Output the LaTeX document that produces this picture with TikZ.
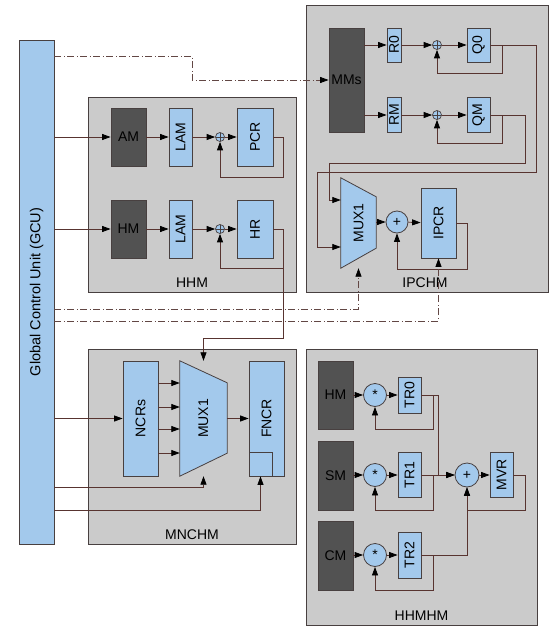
\documentclass[tikz,border=0pt]{standalone}
\usepackage{fontspec}
\setmainfont{Liberation Sans}
\usepackage{graphicx}
\usetikzlibrary{arrows.meta}
\definecolor{regblue}{RGB}{163,201,236}
\definecolor{memgray}{RGB}{82,82,82}
\definecolor{modgray}{RGB}{203,203,203}
\definecolor{wirecol}{RGB}{88,52,48}
\definecolor{edgecol}{RGB}{72,64,64}
\begin{document}
\begin{tikzpicture}[x=1pt,y=-1pt,font=\fontsize{14}{16}\selectfont,
  module/.style={draw=edgecol,fill=modgray,line width=0.9pt,inner sep=0pt},
  reg/.style={draw=edgecol,fill=regblue,line width=0.8pt,inner sep=0pt},
  mem/.style={draw=edgecol,fill=memgray,line width=0.8pt,inner sep=0pt},
  oplus/.style={circle,draw=edgecol,fill=regblue,line width=0.7pt,minimum size=9pt,inner sep=0pt,
    path picture={\draw[edgecol,line width=0.7pt] (path picture bounding box.north) -- (path picture bounding box.south)
      (path picture bounding box.west) -- (path picture bounding box.east);}},
  gate/.style={circle,draw=edgecol,fill=regblue,line width=0.8pt,inner sep=0pt},
  wire/.style={draw=wirecol,line width=0.8pt},
  tip/.style={-{Triangle[length=8.5pt,width=6pt,color=black]}},
  ctrl/.style={draw=wirecol!75!gray,line width=0.8pt,dash pattern=on 7pt off 2.5pt on 1pt off 2.5pt}]
\useasboundingbox (0,0) rectangle (558,632);

% modules
\node[module,minimum width=208,minimum height=195,label={[above=1.5pt]south:HHM}] at (192,194.5) (hhm) {};
\node[module,minimum width=242,minimum height=287,label={[above=1.5pt,xshift=-2pt]south:IPCHM}] at (427,148.5) (ipchm) {};
\node[module,minimum width=208,minimum height=195,label={[above=1.5pt]south:MNCHM}] at (192,446.5) (mnchm) {};
\node[module,minimum width=231,minimum height=276,label={[above=1.5pt]south:HHMHM}] at (421.5,487) (hhmhm) {};

% global control unit
\node[reg,minimum width=35,minimum height=504] at (36.5,292) (gcu) {};
\node[font=\fontsize{14.5}{16}\selectfont] at (gcu.center) (gcutext) {\rotatebox{90}{Global Control Unit (GCU)}};

% HHM
\node[mem,minimum width=35,minimum height=58] at (128.5,137) (am) {AM};
\node[reg,minimum width=23,minimum height=58] at (180.5,137) (lama) {\rotatebox{90}{LAM}};
\node[oplus] at (220,137) (adda) {};
\node[reg,minimum width=36,minimum height=58] at (255,137) (pcr) {\rotatebox{90}{PCR}};
\node[mem,minimum width=35,minimum height=58] at (128.5,229) (hma) {HM};
\node[reg,minimum width=23,minimum height=58] at (180.5,229) (lamb) {\rotatebox{90}{LAM}};
\node[oplus] at (220,229) (addb) {};
\node[reg,minimum width=36,minimum height=58] at (255,229) (hr) {\rotatebox{90}{HR}};

\draw[wire,tip] (gcu.east |- am.west) -- (am.west);
\draw[wire,tip] (am) -- (lama);
\draw[wire,tip] (lama) -- (adda);
\draw[wire,tip] (adda) -- (pcr);
\draw[wire,tip] (pcr.east) -| (283,177) -| (adda.south);
\draw[wire,tip] (gcu.east |- hma.west) -- (hma.west);
\draw[wire,tip] (hma) -- (lamb);
\draw[wire,tip] (lamb) -- (addb);
\draw[wire,tip] (addb) -- (hr);
\draw[wire,tip] (hr.east) -| (283,268) -| (addb.south);

% IPCHM
\node[mem,minimum width=35,minimum height=104] at (346.5,80) (mms) {MMs};
\node[reg,minimum width=14,minimum height=34] at (394,45) (rzero) {\rotatebox{90}{R0}};
\node[oplus] at (437,45) (addc) {};
\node[reg,minimum width=23,minimum height=34] at (478.5,45) (qzero) {\rotatebox{90}{Q0}};
\node[reg,minimum width=14,minimum height=35] at (394,115) (rm) {\rotatebox{90}{RM}};
\node[oplus] at (437,115) (addd) {};
\node[reg,minimum width=23,minimum height=35] at (478.5,115) (qm) {\rotatebox{90}{QM}};
\node[inner sep=0pt,minimum width=35,minimum height=90] at (358.5,223) (ipmux) {};
\draw[reg] (ipmux.north west) -- ([yshift=-19pt]ipmux.north east) -- ([yshift=20pt]ipmux.south east) -- (ipmux.south west) -- cycle;
\node at (ipmux.center) (ipmuxtext) {\rotatebox{90}{MUX1}};
\node[gate,minimum size=22pt] at (397,222) (adde) {+};
\node[reg,minimum width=35,minimum height=70] at (438.5,223) (ipcr) {\rotatebox{90}{IPCR}};

\draw[wire,tip] (mms.east |- rzero.west) -- (rzero.west);
\draw[wire,tip] (rzero) -- (addc);
\draw[wire,tip] (addc) -- (qzero);
\draw[wire,tip] (qzero.east) -| (502,73) -| (addc.south);
\draw[wire,tip] (mms.east |- rm.west) -- (rm.west);
\draw[wire,tip] (rm) -- (addd);
\draw[wire,tip] (addd) -- (qm);
\draw[wire,tip] (qm.east) -| (502,143) -| (addd.south);
\draw[wire,tip] (qzero.east) -| (536,172) -| (317,247) -- (ipmux.west |- 0,247);
\draw[wire,tip] (qm.east) -| (525,163) -| (329,200) -- (ipmux.west |- 0,200);
\draw[wire,tip] (ipmux.east |- adde.west) -- (adde.west);
\draw[wire,tip] (adde) -- (ipcr);
\draw[wire,tip] (ipcr.east) -| (467,269) -| (adde.south);

% MNCHM
\node[reg,minimum width=35,minimum height=115] at (140.5,418.5) (ncrs) {\rotatebox{90}{NCRs}};
\node[inner sep=0pt,minimum width=47,minimum height=115] at (203.5,418.5) (ncmux) {};
\draw[reg] (ncmux.north west) -- ([yshift=-22pt]ncmux.north east) -- ([yshift=23pt]ncmux.south east) -- (ncmux.south west) -- cycle;
\node at (ncmux.center) (ncmuxtext) {\rotatebox{90}{MUX1}};
\node[reg,minimum width=35,minimum height=115] at (266.5,418.5) (fncr) {\rotatebox{90}{FNCR}};
\node[reg,anchor=south west,minimum width=23,minimum height=24] at (fncr.south west) (fncrbit) {};

\draw[wire,tip] (gcu.east |- ncrs.west) -- (ncrs.west);
\foreach \y in {383,407,429,453}
  \draw[wire,tip] (ncrs.east |- 0,\y) -- (ncmux.west |- 0,\y);
\draw[wire,tip] (ncmux.east) -- (fncr.west);
\draw[wire,tip] (gcu.east |- 0,487) -| (ncmux.south);
\draw[wire,tip] (gcu.east |- 0,510) -| (fncrbit.south);
\draw[wire,tip] (hr.east) -| (283,338) -| (ncmux.north);

% HHMHM
\node[mem,minimum width=35,minimum height=68] at (335.5,395) (hmb) {HM};
\node[mem,minimum width=35,minimum height=69] at (335.5,475.5) (sm) {SM};
\node[mem,minimum width=35,minimum height=69] at (335.5,555.5) (cm) {CM};
\node[gate,minimum size=23pt] at (375,395) (mula) {*};
\node[gate,minimum size=23pt] at (375,475) (mulb) {*};
\node[gate,minimum size=23pt] at (375,555) (mulc) {*};
\node[reg,minimum width=23,minimum height=36] at (409.5,395) (trzero) {\rotatebox{90}{TR0}};
\node[reg,minimum width=23,minimum height=45] at (409.5,475) (trone) {\rotatebox{90}{TR1}};
\node[reg,minimum width=23,minimum height=46] at (409.5,555) (trtwo) {\rotatebox{90}{TR2}};
\node[gate,minimum size=24pt] at (467,475) (sum) {+};
\node[reg,minimum width=23,minimum height=45] at (501.5,475) (mvr) {\rotatebox{90}{MVR}};

\draw[wire,tip] (hmb.east |- mula.west) -- (mula.west);
\draw[wire,tip] (mula) -- (trzero);
\draw[wire,tip] (trzero.east) -| (433,429) -| (mula.south);
\draw[wire,tip] (sm.east |- mulb.west) -- (mulb.west);
\draw[wire,tip] (mulb) -- (trone);
\draw[wire,tip] (trone.east) -| (433,510) -| (mulb.south);
\draw[wire,tip] (cm.east |- mulc.west) -- (mulc.west);
\draw[wire,tip] (mulc) -- (trtwo);
\draw[wire,tip] (trtwo.east) -| (433,590) -| (mulc.south);
\draw[wire,tip] (trzero.east) -| (438,475) -- (sum.west);
\draw[wire,tip] (trone.east) -- (sum.west);
\draw[wire,tip] (trtwo.east) -| (sum.south);
\draw[wire,tip] (sum) -- (mvr);
\draw[wire,tip] (mvr.east) -| (525,510) -| (sum.south);

% control lines
\draw[ctrl,tip] (gcu.east |- 0,56) -| (192,80) -- (mms.west);
\draw[ctrl,tip] (gcu.east |- 0,309) -| (ipmux.south);
\draw[ctrl,tip] (gcu.east |- 0,321) -| (ipcr.south);

\end{tikzpicture}
\end{document}
